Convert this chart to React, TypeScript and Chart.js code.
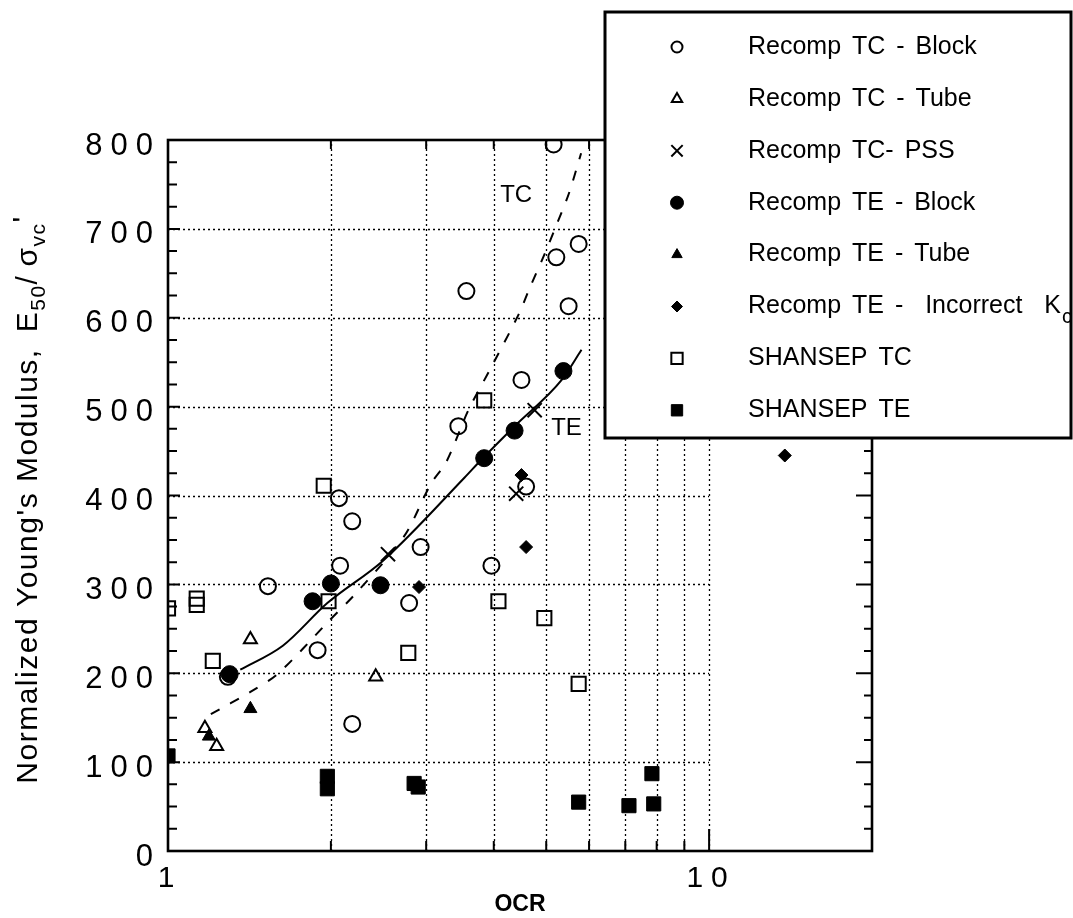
import React, { useEffect, useRef } from 'react';
import { Chart, registerables } from 'chart.js';
import { drawPoint } from 'chart.js/helpers';

Chart.register(...registerables);

// ---------- data (OCR, normalized modulus) ----------
const tcBlockX = [1.29, 1.53, 1.89, 2.07, 2.19, 2.08, 2.19, 2.79, 2.93, 3.96, 3.56, 3.44, 4.5, 4.59, 5.16, 5.74, 5.22, 5.5];
const tcBlockY = [196, 298, 226, 397, 371, 321, 143, 279, 342, 321, 630, 478, 530, 410, 795, 683, 668, 613];

const tcTubeX = [1.17, 1.23, 1.42, 2.42];
const tcTubeY = [138, 118, 238, 196];

const tcPssX = [2.55, 4.4, 4.76];
const tcPssY = [334, 402, 496];

const teBlockX = [1.3, 1.85, 2.0, 2.47, 3.84, 4.37, 5.38];
const teBlockY = [199, 281, 301, 299, 442, 473, 540];

const teTubeX = [1.19, 1.42];
const teTubeY = [129, 160];

const teIncorrectX = [2.91, 4.59, 4.5, 13.8];
const teIncorrectY = [297, 342, 423, 445];

const shansepTcX = [1.0, 1.13, 1.13, 1.21, 1.94, 1.98, 2.78, 3.84, 4.08, 4.96, 5.74];
const shansepTcY = [273, 284, 277, 214, 411, 281, 223, 507, 281, 262, 188];

const shansepTeX = [1.0, 1.97, 1.97, 2.85, 2.9, 5.74, 7.11, 7.84, 7.9];
const shansepTeY = [107, 84, 70, 76, 72, 55, 51, 87, 53];

const tcFitX = [1.2, 1.42, 1.6, 1.97, 2.24, 2.73, 3.06, 3.27, 3.59, 3.93, 4.44, 4.68, 4.96, 5.18, 5.5, 5.8];
const tcFitY = [154, 179, 200, 257, 292, 354, 413, 438, 496, 541, 603, 636, 671, 699, 739, 785];

const teFitX = [1.36, 1.63, 1.97, 2.5, 3.53, 3.79, 4.37, 5.34, 5.81];
const teFitY = [204, 231, 279, 327, 420, 440, 478, 530, 564];

const seriesNames = [
  'Recomp TC - Block',
  'Recomp TC - Tube',
  'Recomp TC- PSS',
  'Recomp TE - Block',
  'Recomp TE - Tube',
  'Recomp TE -  Incorrect  K',
  'SHANSEP TC',
  'SHANSEP TE',
];
const seriesSubscripts = ['', '', '', '', '', 'c', '', ''];

const xTickValues = [1, 10];
const xTickLabels = ['1', '10'];
const yTickValues = [0, 100, 200, 300, 400, 500, 600, 700, 800];
const xGridValues = [2, 3, 4, 5, 6, 7, 8, 9, 10];
const yGridValues = [100, 200, 300, 400, 500, 600, 700];
const yMinorStep = 25;

const curveLabels = ['TC', 'TE'];
const curveLabelX = [4.4, 5.45];
const curveLabelY = [738, 476];

// ---------- helpers ----------
const pts = (xs: number[], ys: number[]) => xs.map((x, i) => ({ x, y: ys[i] }));
const FONT = '"Liberation Sans", Arial, Helvetica, sans-serif';
const BLACK = '#000';
const NONE = 'rgba(0,0,0,0)';
const TICK_SPACING = '8px';

type Marker = { style: any; fill: string; r: number; lr: number; bw: number };
const markers: Marker[] = [
  { style: 'circle', fill: NONE, r: 8, lr: 5.5, bw: 2 },
  { style: 'triangle', fill: NONE, r: 7.5, lr: 6, bw: 2 },
  { style: 'crossRot', fill: NONE, r: 10, lr: 8, bw: 2 },
  { style: 'circle', fill: BLACK, r: 8.5, lr: 6.5, bw: 1 },
  { style: 'triangle', fill: BLACK, r: 7.5, lr: 6, bw: 1 },
  { style: 'rectRot', fill: BLACK, r: 6.5, lr: 5.5, bw: 1 },
  { style: 'rect', fill: NONE, r: 10, lr: 8, bw: 2 },
  { style: 'rect', fill: BLACK, r: 10, lr: 8, bw: 1 },
];
const seriesData = [
  pts(tcBlockX, tcBlockY),
  pts(tcTubeX, tcTubeY),
  pts(tcPssX, tcPssY),
  pts(teBlockX, teBlockY),
  pts(teTubeX, teTubeY),
  pts(teIncorrectX, teIncorrectY),
  pts(shansepTcX, shansepTcY),
  pts(shansepTeX, shansepTeY),
];

const decorPlugin = {
  id: 'decor',
  beforeDraw(chart: any) {
    const { ctx, width, height } = chart;
    ctx.save();
    ctx.fillStyle = '#fff';
    ctx.fillRect(0, 0, width, height);
    ctx.restore();
    const xs = chart.scales.x;
    if (xs && !xs.__patched) {
      const orig = xs.drawTitle;
      xs.drawTitle = function (...args: any[]) {
        const prev = this.ctx.letterSpacing;
        this.ctx.letterSpacing = '0px';
        orig.apply(this, args);
        this.ctx.letterSpacing = prev;
      };
      xs.__patched = true;
    }
    ctx.letterSpacing = TICK_SPACING;
  },
  beforeDatasetsDraw(chart: any) {
    const { ctx, chartArea: a, scales } = chart;
    const xs = scales.x;
    const ys = scales.y;
    ctx.letterSpacing = '0px';
    ctx.save();
    ctx.strokeStyle = BLACK;
    // dotted grid
    ctx.lineWidth = 1.3;
    ctx.setLineDash([2, 3]);
    const xEnd = xs.getPixelForValue(10);
    xGridValues.forEach((v) => {
      const px = Math.round(xs.getPixelForValue(v)) + 0.5;
      ctx.beginPath();
      ctx.moveTo(px, a.bottom);
      ctx.lineTo(px, a.top);
      ctx.stroke();
    });
    yGridValues.forEach((v) => {
      const py = Math.round(ys.getPixelForValue(v)) + 0.5;
      ctx.beginPath();
      ctx.moveTo(a.left, py);
      ctx.lineTo(xEnd, py);
      ctx.stroke();
    });
    ctx.setLineDash([]);
    // tick marks
    ctx.lineWidth = 2;
    for (let v = yMinorStep; v < 800; v += yMinorStep) {
      const py = ys.getPixelForValue(v);
      const major = v % 100 === 0;
      ctx.beginPath();
      ctx.moveTo(a.left, py);
      ctx.lineTo(a.left + (major ? 12 : 9), py);
      ctx.moveTo(a.right, py);
      ctx.lineTo(a.right - (major ? 16 : 8), py);
      ctx.stroke();
    }
    xGridValues.forEach((v) => {
      const px = xs.getPixelForValue(v);
      ctx.beginPath();
      ctx.moveTo(px, a.bottom);
      ctx.lineTo(px, a.bottom - (v === 10 ? 22 : 10));
      ctx.moveTo(px, a.top);
      ctx.lineTo(px, a.top + 9);
      ctx.stroke();
    });
    // frame
    ctx.lineWidth = 2.6;
    ctx.strokeRect(a.left, a.top, a.right - a.left, a.bottom - a.top);
    ctx.restore();
  },
  afterDraw(chart: any) {
    const { ctx, chartArea: a, scales } = chart;
    ctx.letterSpacing = '0px';
    // curve labels
    ctx.save();
    ctx.fillStyle = BLACK;
    ctx.font = `24px ${FONT}`;
    ctx.textAlign = 'center';
    ctx.textBaseline = 'middle';
    curveLabels.forEach((t, i) => {
      ctx.fillText(t, scales.x.getPixelForValue(curveLabelX[i]), scales.y.getPixelForValue(curveLabelY[i]));
    });
    ctx.restore();

    // y-axis title with subscripts
    ctx.save();
    ctx.fillStyle = BLACK;
    ctx.textAlign = 'left';
    ctx.textBaseline = 'alphabetic';
    ctx.letterSpacing = '1.5px';
    const big = `30px ${FONT}`;
    const small = `21px ${FONT}`;
    const parts = [
      { t: "Normalized Young's Modulus,", f: big, dy: 0, gap: 16 },
      { t: 'E', f: big, dy: 0, gap: 0 },
      { t: '50', f: small, dy: 8, gap: 0 },
      { t: '/', f: big, dy: 0, gap: 8 },
      { t: '\u03C3', f: big, dy: 0, gap: 0 },
      { t: 'vc', f: small, dy: 8, gap: 0 },
      { t: "'", f: big, dy: -4, gap: 0 },
    ];
    let total = 0;
    parts.forEach((p) => {
      ctx.font = p.f;
      total += ctx.measureText(p.t).width + p.gap;
    });
    const cy = (a.top + a.bottom) / 2 + 4;
    ctx.translate(37, cy + total / 2);
    ctx.rotate(-Math.PI / 2);
    let cx = 0;
    parts.forEach((p) => {
      ctx.font = p.f;
      ctx.fillText(p.t, cx, p.dy);
      cx += ctx.measureText(p.t).width + p.gap;
    });
    ctx.restore();

    // legend box
    ctx.save();
    const L = 605, T = 12, R = 1071, B = 438;
    ctx.fillStyle = '#fff';
    ctx.fillRect(L, T, R - L, B - T);
    ctx.strokeStyle = BLACK;
    ctx.lineWidth = 3;
    ctx.strokeRect(L, T, R - L, B - T);
    const rowTop = 47;
    const rowStep = 51.9;
    seriesNames.forEach((name, i) => {
      const yy = rowTop + i * rowStep;
      const m = markers[i];
      ctx.fillStyle = m.fill;
      ctx.strokeStyle = BLACK;
      ctx.lineWidth = m.bw;
      drawPoint(ctx, { pointStyle: m.style, radius: m.lr, borderWidth: m.bw, rotation: 0 } as any, 677, yy);
      ctx.fillStyle = BLACK;
      ctx.font = `25px ${FONT}`;
      ctx.textAlign = 'left';
      ctx.textBaseline = 'middle';
      ctx.wordSpacing = '4px';
      ctx.fillText(name, 748, yy);
      if (seriesSubscripts[i]) {
        const w = ctx.measureText(name).width;
        ctx.font = `20px ${FONT}`;
        ctx.fillText(seriesSubscripts[i], 748 + w + 1, yy + 11);
      }
    });
    ctx.restore();
  },
};

export default function App() {
  const ref = useRef<HTMLCanvasElement | null>(null);
  useEffect(() => {
    if (!ref.current) return;
    const datasets: any[] = seriesData.map((d, i) => ({
      label: seriesNames[i] + seriesSubscripts[i],
      data: d,
      pointStyle: markers[i].style,
      pointRadius: markers[i].r,
      pointBorderWidth: markers[i].bw,
      pointBorderColor: BLACK,
      pointBackgroundColor: markers[i].fill,
      borderColor: BLACK,
      backgroundColor: markers[i].fill,
      showLine: false,
      order: 1,
    }));
    datasets.push({
      label: 'TC fit',
      data: pts(tcFitX, tcFitY),
      showLine: true,
      pointRadius: 0,
      borderColor: BLACK,
      borderWidth: 2,
      borderDash: [10, 12],
      tension: 0.3,
      fill: false,
      order: 5,
    });
    datasets.push({
      label: 'TE fit',
      data: pts(teFitX, teFitY),
      showLine: true,
      pointRadius: 0,
      borderColor: BLACK,
      borderWidth: 2,
      cubicInterpolationMode: 'monotone',
      fill: false,
      order: 5,
    });

    const chart = new Chart(ref.current, {
      type: 'scatter',
      data: { datasets },
      options: {
        animation: false,
        responsive: false,
        devicePixelRatio: 1,
        layout: { padding: { left: 0, right: 201, top: 140, bottom: 0 } },
        plugins: { legend: { display: false }, tooltip: { enabled: false } },
        scales: {
          x: {
            type: 'logarithmic',
            position: 'bottom',
            min: 1,
            max: 20,
            grid: { display: false, drawTicks: false },
            border: { display: false },
            afterBuildTicks: (s: any) => {
              s.ticks = xTickValues.map((v) => ({ value: v }));
            },
            afterFit: (s: any) => {
              s.height = 67;
            },
            ticks: {
              autoSkip: false,
              maxRotation: 0,
              minRotation: 0,
              padding: 10,
              labelOffset: 2,
              color: BLACK,
              font: { family: FONT, size: 30 },
              callback: (v: any) => {
                const k = xTickValues.indexOf(Number(v));
                return k >= 0 ? xTickLabels[k] : '';
              },
            },
            title: {
              display: true,
              text: 'OCR',
              color: BLACK,
              font: { family: FONT, size: 23, weight: 'bold' },
              padding: 0,
            },
          },
          y: {
            type: 'linear',
            position: 'left',
            min: 0,
            max: 800,
            grid: { display: false, drawTicks: false },
            border: { display: false },
            afterBuildTicks: (s: any) => {
              s.ticks = yTickValues.map((v) => ({ value: v }));
            },
            afterFit: (s: any) => {
              s.width = 168;
            },
            ticks: {
              padding: 7,
              labelOffset: 6,
              color: BLACK,
              font: { family: FONT, size: 31 },
            },
          },
        },
      },
      plugins: [decorPlugin],
    } as any);
    return () => chart.destroy();
  }, []);

  return (
    <canvas
      ref={ref}
      width={1073}
      height={918}
      style={{ position: 'fixed', left: 0, top: 0, width: 1073, height: 918, background: '#fff' }}
    />
  );
}
